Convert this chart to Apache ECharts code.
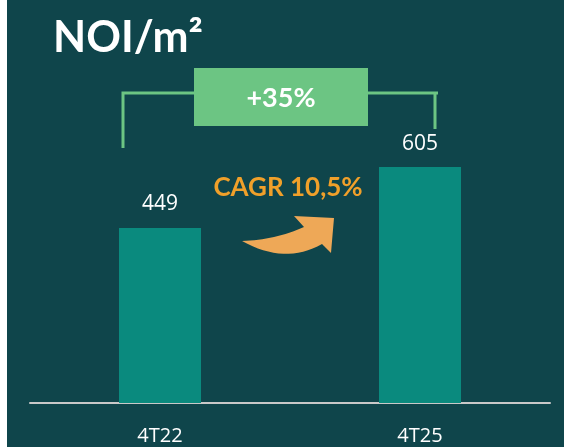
<!DOCTYPE html>
<html>
<head>
<meta charset="utf-8">
<script src="https://cdn.jsdelivr.net/npm/echarts@6/dist/echarts.min.js"></script>
<style>
html,body{margin:0;padding:0;background:#ffffff;}
#chart{position:absolute;left:7px;top:0;width:557px;height:447px;background:#0f454b;}
</style>
</head>
<body>
<div id="chart"></div>
<script>
var categories = ['4T22', '4T25'];
var values = [449, 605];
var titleText = 'NOI/m²';
var growthText = '+35%';
var cagrText = 'CAGR 10,5%';

var ox = -7; // chart div offset

function quad(p0, c, p1, n) {
  var pts = [];
  for (var i = 0; i <= n; i++) {
    var t = i / n, u = 1 - t;
    pts.push([u * u * p0[0] + 2 * u * t * c[0] + t * t * p1[0] + ox,
              u * u * p0[1] + 2 * u * t * c[1] + t * t * p1[1]]);
  }
  return pts;
}
var arrowPts = [].concat(
  quad([242, 241], [275, 240], [304, 227], 16),
  [[294 + ox, 216], [334 + ox, 218], [331 + ox, 253]],
  quad([322, 244], [285, 265], [242, 241], 16)
);

var chart = echarts.init(document.getElementById('chart'), null, {renderer: 'canvas'});
chart.setOption({
  backgroundColor: '#0f454b',
  animation: false,
  grid: {left: 30 + ox, right: 564 - 550, top: 91, bottom: 44},
  xAxis: {
    type: 'category',
    data: categories,
    axisLine: {show: true, lineStyle: {color: '#c9c9c9', width: 2}},
    axisTick: {show: false},
    axisLabel: {color: '#ffffff', fontSize: 20, fontFamily: 'Open Sans', margin: 23}
  },
  yAxis: {
    type: 'value', min: 0, max: 800,
    show: false, splitLine: {show: false}
  },
  series: [{
    type: 'bar',
    data: values,
    barWidth: 82,
    itemStyle: {color: '#0a8a7e'},
    label: {show: true, position: 'top', distance: 13, color: '#ffffff', fontSize: 21, fontFamily: 'Open Sans'}
  }],
  graphic: [
    {type: 'text', x: 53 + ox, y: 38, style: {text: titleText, fill: '#ffffff', font: 'bold 43px Lato', textVerticalAlign: 'middle'}},
    {type: 'polyline', shape: {points: [[123 + ox, 148], [123 + ox, 93], [194 + ox, 93]]}, style: {stroke: '#6cc583', lineWidth: 3, fill: null}},
    {type: 'polyline', shape: {points: [[368 + ox, 93], [438 + ox, 93], [435 + ox, 93], [435 + ox, 129]]}, style: {stroke: '#6cc583', lineWidth: 3, fill: null}},
    {type: 'rect', shape: {x: 194 + ox, y: 68, width: 174, height: 58}, style: {fill: '#6cc583'}},
    {type: 'text', x: 281 + ox, y: 98, style: {text: growthText, fill: '#ffffff', font: 'bold 27px Lato', textAlign: 'center', textVerticalAlign: 'middle'}},
    {type: 'text', x: 288 + ox, y: 188, style: {text: cagrText, fill: '#f0a02a', font: 'bold 26px Lato', textAlign: 'center', textVerticalAlign: 'middle'}},
    {type: 'polygon', shape: {points: arrowPts}, style: {fill: '#eea857'}}
  ]
});
</script>
</body>
</html>
